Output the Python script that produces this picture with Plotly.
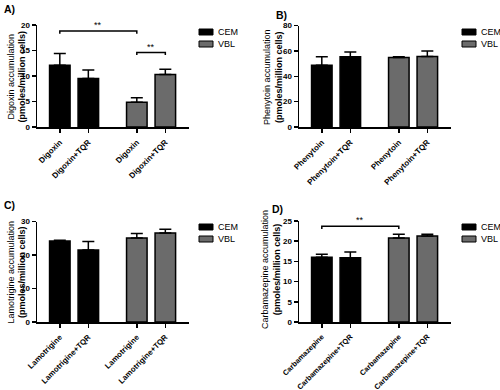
import plotly.graph_objects as go

# ---------------- data ----------------
groups = ["CEM", "VBL"]
panel_labels = ["A)", "B)", "C)", "D)"]
y_titles = ["Digoxin accumulation", "Phenytoin accumulation",
            "Lamotrigine accumulation", "Carbamazepine accumulation"]
y_units = "(pmoles/million cells)"

x_labels_A = ["Digoxin", "Digoxin+TQR", "Digoxin", "Digoxin+TQR"]
x_labels_B = ["Phenytoin", "Phenytoin+TQR", "Phenytoin", "Phenytoin+TQR"]
x_labels_C = ["Lamotrigine", "Lamotrigine+TQR", "Lamotrigine", "Lamotrigine+TQR"]
x_labels_D = ["Carbamazepine", "Carbamazepine+TQR", "Carbamazepine", "Carbamazepine+TQR"]

cem_A = [12.1, 9.5]
cem_A_err = [2.3, 1.7]
vbl_A = [4.85, 10.3]
vbl_A_err = [0.9, 1.0]

cem_B = [48.7, 55.3]
cem_B_err = [6.6, 3.9]
vbl_B = [54.8, 55.5]
vbl_B_err = [0.6, 4.5]

cem_C = [24.2, 21.5]
cem_C_err = [0.2, 2.5]
vbl_C = [25.1, 26.6]
vbl_C_err = [1.3, 1.1]

cem_D = [16.0, 15.9]
cem_D_err = [0.8, 1.4]
vbl_D = [20.8, 21.3]
vbl_D_err = [0.9, 0.4]

y_ticks_A = [0, 5, 10, 15, 20]
y_ticks_B = [0, 20, 40, 60, 80]
y_ticks_C = [0, 10, 20, 30]
y_ticks_D = [0, 5, 10, 15, 20, 25]

# significance brackets: (bar index i, bar index j, label)
sig_A = [(0, 2, "**"), (2, 3, "**")]
sig_D = [(0, 2, "**")]

# ---------------- layout helpers ----------------
W, H = 500, 390
FONT = "Arial, Liberation Sans, sans-serif"
xpos = [0, 1, 2.7, 3.7]
bar_w = 0.72
x_range = [-0.8, 4.53]
colors = {"CEM": "#000000", "VBL": "#6b6b6b"}


def px_x(p):
    return p / W


def px_y(p):
    return 1 - p / H


panels = [
    dict(lab=x_labels_A, cem=cem_A, ce=cem_A_err, vbl=vbl_A, ve=vbl_A_err,
         ticks=y_ticks_A, x0=37, x1=189, ytop=25, ybot=127, sig=sig_A,
         sigpos=[(18.8, 18.3), (14.6, 14.1)], xfs=8),
    dict(lab=x_labels_B, cem=cem_B, ce=cem_B_err, vbl=vbl_B, ve=vbl_B_err,
         ticks=y_ticks_B, x0=299, x1=451, ytop=25.5, ybot=127, sig=[], sigpos=[], xfs=8),
    dict(lab=x_labels_C, cem=cem_C, ce=cem_C_err, vbl=vbl_C, ve=vbl_C_err,
         ticks=y_ticks_C, x0=37, x1=189, ytop=221.5, ybot=322, sig=[], sigpos=[], xfs=7.8),
    dict(lab=x_labels_D, cem=cem_D, ce=cem_D_err, vbl=vbl_D, ve=vbl_D_err,
         ticks=y_ticks_D, x0=299, x1=451, ytop=221, ybot=322, sig=sig_D,
         sigpos=[(23.7, 23.0)], xfs=7.4),
]

fig = go.Figure()
shapes = []
annotations = []

title_pos = [(16.5, 77), (273, 77), (16.5, 272), (271, 270)]
panel_lab_pos = [(2, 9), (274, 15), (2, 205), (270, 209)]
legend_pos = [(199, 32), (462, 32), (199, 227), (462, 227)]

for k, p in enumerate(panels):
    n = "" if k == 0 else str(k + 1)
    xa, ya = "x" + n, "y" + n
    for g, vals, errs in (("CEM", p["cem"], p["ce"]), ("VBL", p["vbl"], p["ve"])):
        xs = xpos[:2] if g == "CEM" else xpos[2:]
        fig.add_trace(go.Bar(
            x=xs, y=vals, width=bar_w, name=g, showlegend=False,
            xaxis=xa, yaxis=ya,
            marker=dict(color=colors[g], line=dict(color="black", width=1.5)),
            error_y=dict(type="data", array=errs, arrayminus=[0] * len(errs),
                         symmetric=False, color="black", thickness=1.5, width=6),
        ))
    ymax = p["ticks"][-1]
    fig.layout["xaxis" + n] = dict(
        domain=[px_x(p["x0"]), px_x(p["x1"])], range=x_range, anchor=ya,
        tickmode="array", tickvals=xpos, ticktext=p["lab"], tickangle=-45,
        ticks="outside", ticklen=4, tickwidth=1.5, tickcolor="black",
        showline=True, linecolor="black", linewidth=1.5, showgrid=False,
        zeroline=False, fixedrange=True, automargin=False, ticklabelstandoff=2,
        tickfont=dict(family=FONT, size=p["xfs"], color="black", weight="bold"),
    )
    fig.layout["yaxis" + n] = dict(
        domain=[px_y(p["ybot"]), px_y(p["ytop"])], range=[0, ymax], anchor=xa,
        tickmode="array", tickvals=p["ticks"],
        ticks="outside", ticklen=4, tickwidth=1.5, tickcolor="black",
        showline=True, linecolor="black", linewidth=1.5, showgrid=False,
        zeroline=False, fixedrange=True, automargin=False,
        tickfont=dict(family=FONT, size=8, color="black", weight="bold"),
    )
    # y title
    tx, ty = title_pos[k]
    annotations.append(dict(
        x=px_x(tx), y=px_y(ty), xref="paper", yref="paper",
        text=y_titles[k] + "<br><b>" + y_units + "</b>", textangle=-90,
        showarrow=False, xanchor="center", yanchor="middle",
        font=dict(family=FONT, size=9, color="black"),
    ))
    # panel label
    lx, ly = panel_lab_pos[k]
    annotations.append(dict(
        x=px_x(lx), y=px_y(ly), xref="paper", yref="paper", text="<b>" + panel_labels[k] + "</b>",
        showarrow=False, xanchor="left", yanchor="middle",
        font=dict(family=FONT, size=10.5, color="black"),
    ))
    # legend (box + text)
    gx, gy = legend_pos[k]
    for j, g in enumerate(groups):
        yy = gy + 12 * j
        shapes.append(dict(type="rect", xref="paper", yref="paper",
                           x0=px_x(gx), x1=px_x(gx + 14), y0=px_y(yy - 3), y1=px_y(yy + 3),
                           fillcolor=colors[g], line=dict(color="black", width=1)))
        annotations.append(dict(
            x=px_x(gx + 17), y=px_y(yy), xref="paper", yref="paper", text=g,
            showarrow=False, xanchor="left", yanchor="middle",
            font=dict(family=FONT, size=9, color="black"),
        ))
    # significance brackets
    xr = "x" + n
    yr = "y" + n
    for (i, j, s), (ly_, lyd) in zip(p["sig"], p["sigpos"]):
        xi, xj = xpos[i], xpos[j]
        shapes.append(dict(type="path", xref=xr, yref=yr,
                           path=f"M {xi} {lyd} L {xi} {ly_} L {xj} {ly_} L {xj} {lyd}",
                           line=dict(color="black", width=1.5)))
        annotations.append(dict(
            x=(xi + xj) / 2, y=ly_, xref=xr, yref=yr, text="**", showarrow=False,
            yanchor="bottom", yshift=-1, font=dict(family=FONT, size=9, color="black"),
        ))

fig.update_layout(
    width=W, height=H, margin=dict(l=0, r=0, t=0, b=0, pad=0),
    paper_bgcolor="white", plot_bgcolor="white",
    barmode="overlay", showlegend=False,
    shapes=shapes, annotations=annotations,
    font=dict(family=FONT, color="black"),
)

fig.write_html(
    "out.html",
    config={"displayModeBar": False, "staticPlot": True},
    post_script="document.body.style.margin='0';document.body.style.overflow='hidden';",
)
